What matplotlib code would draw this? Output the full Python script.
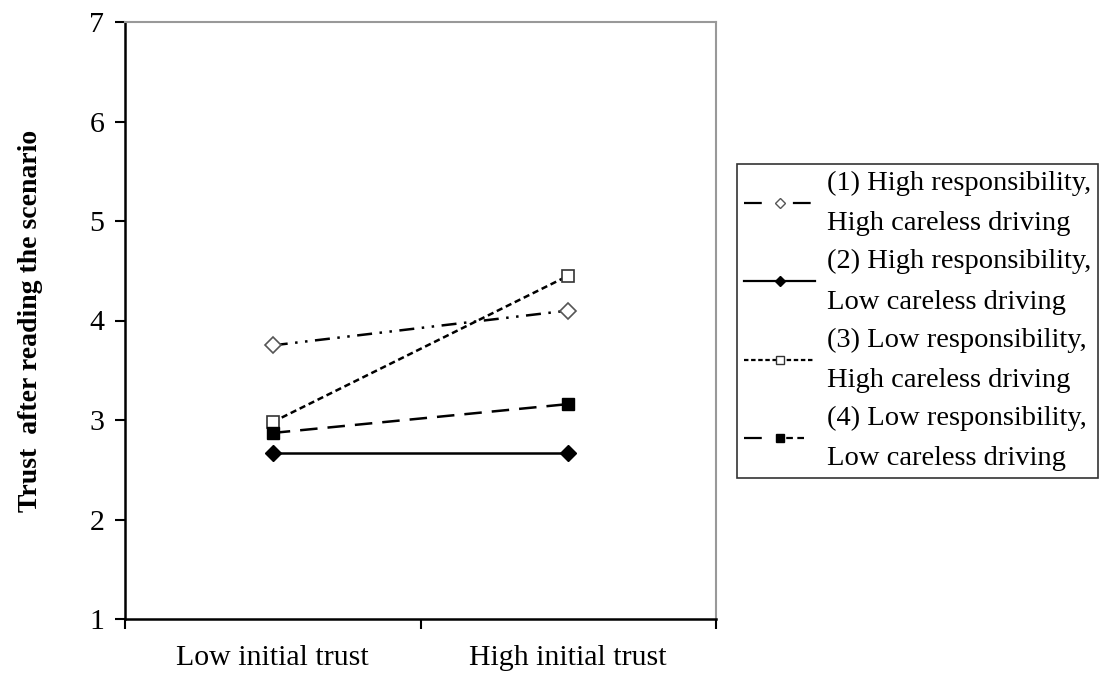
import matplotlib.pyplot as plt
from matplotlib.lines import Line2D

categories = ['Low initial trust', 'High initial trust']
labels = ['(1) High responsibility,\nHigh careless driving',
          '(2) High responsibility,\nLow careless driving',
          '(3) Low responsibility,\nHigh careless driving',
          '(4) Low responsibility,\nLow careless driving']
high_resp_high_careless = [3.75, 4.10]
high_resp_low_careless = [2.67, 2.67]
low_resp_high_careless = [2.98, 4.45]
low_resp_low_careless = [2.87, 3.16]
y_label = 'Trust  after reading the scenario'

plt.rcParams['font.family'] = ['Liberation Serif', 'DejaVu Serif']

fig = plt.figure(figsize=(11.14, 6.73), dpi=100)
ax = fig.add_axes([125 / 1114, 1 - 619 / 673, 591 / 1114, 597 / 673])

xs = [0.5, 1.5]
styles = [
    dict(ls=(0, (6, 3, 1, 3, 1, 3)), marker='D', mfc='white', mec='#555555', ms=8, mew=1.2),
    dict(ls='-', marker='D', mfc='black', mec='black', ms=8),
    dict(ls=(0, (2.5, 1.5)), marker='s', mfc='white', mec='#333333', ms=8.5, mew=1.2),
    dict(ls=(0, (7, 4)), marker='s', mfc='black', mec='black', ms=8.5),
]
series = [high_resp_high_careless, high_resp_low_careless,
          low_resp_high_careless, low_resp_low_careless]
for ys, st in zip(series, styles):
    ax.plot(xs, ys, color='black', lw=1.8, **st)

ax.set_xlim(0, 2)
ax.set_ylim(1, 7)
ax.set_yticks(range(1, 8))
ax.set_xticks([0, 1, 2])
ax.set_xticklabels([])
ax.set_xticks(xs, minor=True)
ax.set_xticklabels(categories, minor=True)
ax.tick_params(axis='x', which='minor', length=0, pad=19, labelsize=21.5)
ax.tick_params(axis='x', which='major', direction='out', length=7, width=1.5)
ax.tick_params(axis='y', direction='out', length=7, width=1.5, labelsize=21.5, pad=8)
ax.spines['left'].set_linewidth(1.8)
ax.spines['bottom'].set_linewidth(1.8)
ax.spines['top'].set_color('#999999')
ax.spines['right'].set_color('#999999')
ax.spines['top'].set_linewidth(1.5)
ax.spines['right'].set_linewidth(1.5)
ax.set_ylabel(y_label, fontsize=20, fontweight='bold', labelpad=33)

handle_styles = [
    dict(ls=(0, (8, 14)), marker='D', mfc='white', mec='#555555', ms=5),
    dict(ls='-', marker='D', mfc='black', mec='black', ms=5),
    dict(ls=(0, (2, 1.2)), marker='s', mfc='white', mec='#333333', ms=5.5),
    dict(ls=(0, (8, 11, 3, 2, 3, 20)), marker='s', mfc='black', mec='black', ms=5.5),
]
handles = [Line2D([], [], color='black', lw=1.6, **hs) for hs in handle_styles]
leg = fig.legend(handles, labels, loc='upper left',
                 bbox_to_anchor=(737 / 1114, 1 - 164 / 673),
                 fontsize=20.5, frameon=True, fancybox=False,
                 edgecolor='black', handlelength=2.5, handletextpad=0.4,
                 labelspacing=0.45, borderpad=0.25, borderaxespad=0)
leg.get_frame().set_linewidth(1.2)
for t in leg.get_texts():
    t.set_linespacing(1.8)

fig.savefig('out.png', dpi=100)
